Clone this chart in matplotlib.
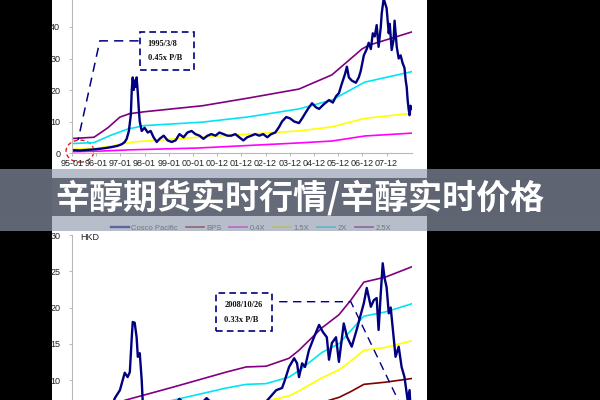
import matplotlib
matplotlib.use("Agg")
import matplotlib.pyplot as plt
from matplotlib.patches import Rectangle, Ellipse

plt.rcParams['font.family'] = ['Liberation Sans', 'DejaVu Sans']

# x positions are in tick units (0 = 95-01, 13 = 07-12)
tick_labels = ["95-01", "96-01", "97-01", "98-01", "99-01", "00-01", "00-12",
               "01-12", "02-12", "03-12", "04-12", "05-12", "06-12", "07-12"]

# ---- top chart (Cosco Pacific price vs P/B bands) ----
top_t = [0, 0.33, 0.66, 0.99, 1.32, 1.65, 1.89, 2.06, 2.18, 2.26,
         2.35, 2.43, 2.47, 2.51, 2.55, 2.59, 2.63, 2.67, 2.72, 2.76,
         2.80, 2.88, 3.00, 3.13, 3.25, 3.37, 3.50, 3.62, 3.79, 3.95,
         4.12, 4.28, 4.44, 4.61, 4.77, 4.94, 5.10, 5.27, 5.43, 5.60,
         5.76, 5.93, 6.09, 6.26, 6.42, 6.58, 6.75, 6.91, 7.08, 7.24,
         7.41, 7.57, 7.74, 7.90, 8.07, 8.23, 8.40, 8.56, 8.68, 8.85,
         9.01, 9.18, 9.38, 9.51, 9.59, 9.75, 9.92, 10.08, 10.21, 10.41,
         10.62, 10.78, 10.91, 11.03, 11.15, 11.28, 11.36, 11.44, 11.56, 11.73,
         11.85, 11.93, 12.06, 12.18, 12.26, 12.35, 12.43, 12.51, 12.59, 12.67,
         12.76, 12.80, 12.88, 12.96, 13.00, 13.09, 13.13, 13.21, 13.29, 13.33,
         13.42, 13.50, 13.58, 13.66, 13.74, 13.79, 13.83, 13.87, 13.91, 13.95,
         13.99, 14.03]
top_price = [0.9, 0.8, 1.0, 1.2, 1.5, 1.9, 2.3, 2.8, 3.5, 4.5,
             7, 12, 20, 24, 20, 23, 21, 24, 19, 14,
             10, 7, 8, 6.5, 7, 5, 3.5, 4.5, 5.5, 4,
             3.5, 4, 6, 5, 6.5, 7, 6, 5.5, 4.5, 5.5,
             6, 5.5, 6.5, 6, 5.5, 5.5, 6, 5, 4, 5,
             5.5, 6, 5.5, 6, 5, 6, 6.5, 8.3, 10, 11.4,
             11, 10, 9.5, 11, 12, 14, 15.8, 14.5, 14, 15.5,
             16.8, 16, 18, 19, 22, 25, 27.4, 24, 23, 22.3,
             24, 26, 31, 33, 35, 33, 38, 37, 40.6, 33.7,
             40, 44.4, 49, 47, 46, 38, 41, 32.7, 36, 42,
             33.7, 30, 31, 28.6, 27, 23, 21, 16.8, 14, 12,
             15, 14]

top_p25_t = [0, 0.91, 1.48, 1.98, 2.39, 3.00, 5.39, 7.33, 9.38, 10.74, 11.98, 12.26, 14.03]
top_p25 = [4.6, 5.0, 8.0, 11.4, 12.5, 13.1, 15.0, 17.5, 20.3, 24.8, 33.0, 34.2, 38.4]
top_p20_t = [0, 0.91, 1.56, 2.30, 3.00, 5.39, 7.33, 9.38, 10.74, 12.10, 14.03]
top_p20 = [3.0, 3.3, 5.5, 7.6, 8.7, 9.8, 11.5, 14.0, 16.8, 22.5, 25.8]
top_p15_t = [0, 0.91, 1.77, 2.51, 5.39, 9.38, 10.74, 12.10, 14.03]
top_p15 = [1.2, 1.4, 2.4, 3.5, 5.1, 7.0, 8.3, 11.0, 12.6]
top_p04_t = [0, 1.15, 2.39, 5.27, 9.38, 10.74, 12.10, 14.03]
top_p04 = [0.4, 0.6, 1.0, 1.6, 3.2, 3.8, 5.4, 6.3]

# ---- bottom chart ----
bot_t = [0, 1.15, 1.56, 1.77, 1.98, 2.18, 2.30, 2.39, 2.47, 2.51,
         2.59, 2.67, 2.72, 2.80, 2.88, 2.92, 3.13, 3.62, 4.12, 4.44,
         4.86, 5.27, 5.56, 5.88, 6.50, 7.12, 7.74, 8.07, 8.44, 8.68,
         8.77, 8.97, 9.18, 9.30, 9.38, 9.51, 9.63, 9.79, 10.00, 10.21,
         10.37, 10.53, 10.62, 10.74, 10.91, 11.03, 11.23, 11.36, 11.56, 11.77,
         11.93, 12.06, 12.18, 12.35, 12.47, 12.59, 12.67, 12.76, 12.84, 12.92,
         13.00, 13.09, 13.17, 13.25, 13.37, 13.50, 13.62, 13.74, 13.87, 13.95,
         13.99, 14.03]
bot_price = [1.0, 2.0, 5.5, 7.5, 8.6, 11, 10.4, 11.1, 15.9, 18,
             17.9, 15.9, 13.2, 13.7, 10, 7.2, 5.5, 5, 6, 7.4,
             6, 6.5, 7.5, 6.5, 6, 6.5, 6, 7.2, 8.6, 8.9,
             9.7, 11.8, 13, 12.3, 10.4, 12.3, 11.8, 14.1, 15.9, 17.6,
             16.6, 15.9, 12.8, 15.1, 15.9, 12.5, 17.8, 16, 14.6, 17,
             19, 20.6, 22.7, 20.1, 21, 21.3, 16.9, 22, 26.1, 24,
             22.8, 19.2, 20, 17.3, 13.2, 14.6, 11.8, 10.4, 7.2, 8.6,
             6, 4]

band_t = [0, 0.95, 2.18, 4.16, 6.38, 7.20, 8.02, 8.97, 9.38, 10.33, 11.03, 11.52, 12.06, 12.96, 14.03]
bot_bps = [1.2, 1.3, 2.9, 3.6, 4.4, 4.7, 4.8, 5.2, 5.6, 6.9, 7.6, 8.4, 9.4, 9.7, 10.2]
bot_p04 = [0.5, 0.5, 1.2, 1.4, 1.8, 1.9, 1.9, 2.1, 2.3, 2.8, 3.0, 3.4, 3.8, 3.9, 4.1]
bot_p15 = [1.7, 1.9, 4.3, 5.4, 6.7, 7.1, 7.1, 7.8, 8.5, 10.3, 11.4, 12.6, 14.1, 14.5, 15.4]
bot_p20 = [2.3, 2.6, 5.8, 7.2, 8.9, 9.4, 9.5, 10.4, 11.3, 13.8, 15.0, 16.8, 18.8, 19.4, 20.5]
bot_p25 = [2.9, 3.2, 7.2, 9.0, 11.1, 11.8, 11.9, 13.0, 14.1, 17.2, 19.0, 21.0, 23.5, 24.2, 25.6]

series_names = ["Cosco Pacific", "BPS", "0.4X", "1.5X", "2X", "2.5X"]
c_price = "#000080"
c_bps = "#800000"
c_04 = "#ff00ff"
c_15 = "#ffff00"
c_20 = "#00e5f5"
c_25 = "#800080"

title = "辛醇期货实时行情/辛醇实时价格"

fig = plt.figure(figsize=(6, 4), dpi=100, facecolor="black")
# white page behind the charts
fig.patches.append(Rectangle((52 / 600, 0), 375 / 600, 1, transform=fig.transFigure,
                             facecolor="white", edgecolor="none", zorder=-5))


def style_axis(ax, yticks):
    ax.set_facecolor("none")
    for s in ["top", "right"]:
        ax.spines[s].set_visible(False)
    for s in ["left", "bottom"]:
        ax.spines[s].set_color("#b8b8b8")
        ax.spines[s].set_linewidth(0.8)
    ax.set_xlim(0, 14.05)
    ax.set_xticks(range(len(tick_labels)))
    ax.set_xticklabels(tick_labels)
    ax.set_yticks(yticks)
    ax.tick_params(axis="both", labelsize=6.5, colors="#b8b8b8", labelcolor="#222222",
                   length=2.5, width=0.7)
    ax.tick_params(axis="y", pad=6)
    ax.tick_params(axis="x", pad=2)


# ---- top axes ----
ax1 = fig.add_axes([72 / 600, 1 - 153 / 400, 340 / 600, 157.5 / 400])
ax1.plot(top_p04_t, top_p04, color=c_04, lw=1.2)
ax1.plot(top_p15_t, top_p15, color=c_15, lw=1.2)
ax1.plot(top_p20_t, top_p20, color=c_20, lw=1.2)
ax1.plot(top_p25_t, top_p25, color=c_25, lw=1.2)
ax1.plot(top_t, top_price, color=c_price, lw=1.7)
ax1.set_ylim(0, 50)
style_axis(ax1, [0, 10, 20, 30, 40])

ax1.add_patch(Rectangle((2.8, 26.3), 2.26, 12.1, fill=False, edgecolor=c_price,
                        lw=1.2, ls=(0, (4, 2.5))))
ax1.text(3.12, 34.6, "1995/3/8", fontsize=6, fontweight="bold", family="Liberation Serif",
         va="center", color="#111111")
ax1.text(3.12, 30.2, "0.45x P/B", fontsize=6, fontweight="bold", family="Liberation Serif",
         va="center", color="#111111")
ax1.plot([2.75, 1.15, 0.25], [35.6, 35.6, 4.1], color=c_price, lw=1.1, ls=(0, (6, 4)))
ax1.add_patch(Ellipse((0.33, 0.6), 1.15, 7, fill=False, edgecolor="#e02020", lw=1,
                      ls=(0, (3, 2)), clip_on=False))

# ---- bottom axes (its date axis lies below the picture) ----
ax2 = fig.add_axes([72 / 600, 1 - 452.5 / 400, 340 / 600, 217.5 / 400])
h_price, = ax2.plot(bot_t, bot_price, color=c_price, lw=1.7, zorder=5)
h_bps, = ax2.plot(band_t, bot_bps, color=c_bps, lw=1.2)
h_04, = ax2.plot(band_t, bot_p04, color=c_04, lw=1.2)
h_15, = ax2.plot(band_t, bot_p15, color=c_15, lw=1.2)
h_20, = ax2.plot(band_t, bot_p20, color=c_20, lw=1.2)
h_25, = ax2.plot(band_t, bot_p25, color=c_25, lw=1.2)
ax2.set_ylim(0, 30)
style_axis(ax2, [10, 15, 20, 25, 30])
ax2.tick_params(axis="x", labelbottom=False, length=0)
ax2.text(0.35, 29.6, "HKD", fontsize=6.5, color="#222222", va="center")

ax2.add_patch(Rectangle((5.97, 16.76), 2.3, 5.24, fill=False, edgecolor=c_price,
                        lw=1.2, ls=(0, (4, 2.5))))
ax2.text(6.3, 20.3, "2008/10/26", fontsize=6, fontweight="bold", family="Liberation Serif",
         va="center", color="#111111")
ax2.text(6.3, 18.3, "0.33x P/B", fontsize=6, fontweight="bold", family="Liberation Serif",
         va="center", color="#111111")
ax2.plot([8.56, 11.52, 14.03], [20.8, 20.8, 3.4], color=c_price, lw=1.0, ls=(0, (6, 4)))

ax2.legend([h_price, h_bps, h_04, h_15, h_20, h_25], series_names,
           loc="center", bbox_to_anchor=(0.418, 1 - 228 / 400), bbox_transform=fig.transFigure,
           ncol=6, frameon=False, fontsize=5.5, handlelength=2.4, handletextpad=0.3,
           columnspacing=1.0, labelcolor="#333333")

# ---- banner overlay ----
ov = fig.add_axes([0, 0, 1, 1], zorder=10)
ov.set_xlim(0, 600)
ov.set_ylim(400, 0)
ov.axis("off")
ov.add_patch(Rectangle((0, 169), 600, 62, facecolor=(146 / 255, 155 / 255, 173 / 255),
                       alpha=0.66, edgecolor="none"))
ov.add_patch(Rectangle((0, 178), 600, 38, facecolor="#5e6472", alpha=0.93, edgecolor="none"))
ov.text(300, 198, title, color="white", fontsize=24.5, fontweight="bold",
        family=["Noto Sans CJK SC", "DejaVu Sans"], ha="center", va="center")

fig.savefig("out.png", dpi=100, facecolor=fig.get_facecolor())
